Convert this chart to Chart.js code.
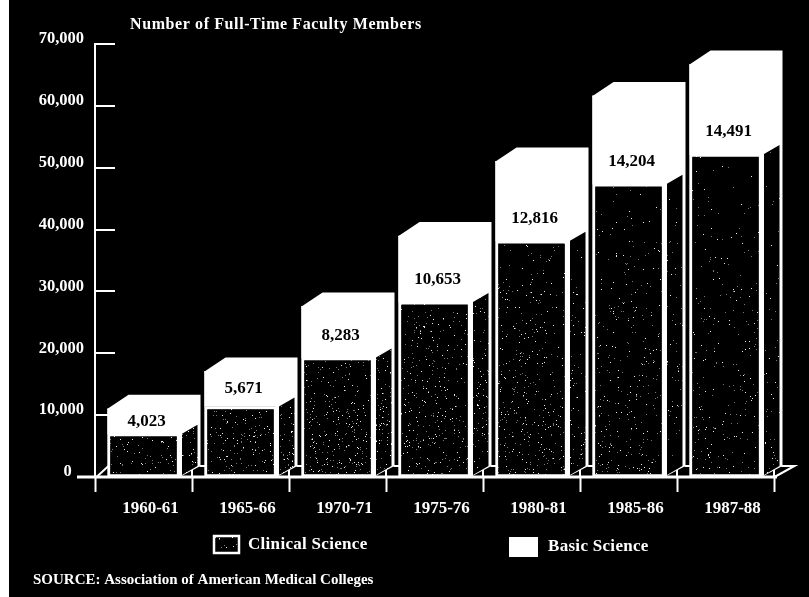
<!DOCTYPE html>
<html>
<head>
<meta charset="utf-8">
<style>
  html, body { margin: 0; padding: 0; background: #fff; }
  #wrap { width: 809px; height: 597px; }
  canvas { display: block; }
</style>
<script src="https://cdn.jsdelivr.net/npm/chart.js@4"></script>
</head>
<body>
<div id="wrap"><canvas id="chart" width="809" height="597"></canvas></div>
<script>
// Full-time medical school faculty by academic year
const categories = ['1960-61', '1965-66', '1970-71', '1975-76', '1980-81', '1985-86', '1987-88'];
const clinicalScience = [7000, 11400, 19300, 28300, 38200, 47400, 52200];
const basicScience = [4023, 5671, 8283, 10653, 12816, 14204, 14491];

const chartTitle = 'Number of Full-Time Faculty Members';
const sourceNote = 'SOURCE: Association of American Medical Colleges';
const clinicalLabel = 'Clinical Science';
const basicLabel = 'Basic Science';

const SERIF = '"Liberation Serif", "Times New Roman", serif';
const DEPTH_X = 21;
const DEPTH_Y = 14;

// Speckled print-screen fill: a fixed hash sets sparse dots, thicker
// towards the lower part of the page and around the middle columns.
function makeStipple(w, h) {
  const c = document.createElement('canvas');
  c.width = w; c.height = h;
  const g = c.getContext('2d');
  g.fillStyle = '#000';
  g.fillRect(0, 0, w, h);
  const img = g.getImageData(0, 0, w, h);
  for (let y = 0; y < h; y++) {
    for (let x = 0; x < w; x++) {
      let n = Math.imul(x * 374761393 + y * 668265263, 1274126177);
      n = (n ^ (n >>> 13)) >>> 0;
      n = Math.imul(n, 1103515245) >>> 0;
      const r = ((n >>> 8) & 0xffff) / 65536;
      const yf = Math.min(1, Math.max(0, (y - 150) / 320));
      const xf = 1 - Math.min(1, Math.abs(x - 340) / 420);
      const d = y > 490 ? 0.02 : 0.004 + 0.04 * yf * (0.3 + 0.7 * xf);
      if (r < d) {
        const i = (y * w + x) * 4;
        const v = r < d * 0.4 ? 235 : 120;
        img.data[i] = v; img.data[i + 1] = v; img.data[i + 2] = v;
      }
    }
  }
  g.putImageData(img, 0, 0);
  return c;
}

const ctx = document.getElementById('chart').getContext('2d');
const stippleFill = ctx.createPattern(makeStipple(809, 597), 'repeat');

// Paper edge on the left, black plate behind everything else
const platePlugin = {
  id: 'plate',
  beforeDraw(chart) {
    const g = chart.ctx;
    g.save();
    g.fillStyle = '#fff';
    g.fillRect(0, 0, chart.width, chart.height);
    g.fillStyle = '#000';
    g.fillRect(9, 0, chart.width - 9, chart.height);
    g.restore();
  }
};

// Short ticks inside the plot and the baseline overhang
const axisPlugin = {
  id: 'axisMarks',
  beforeDatasetsDraw(chart) {
    const g = chart.ctx, y = chart.scales.y, a = chart.chartArea;
    g.save();
    g.strokeStyle = '#fff';
    g.lineWidth = 2;
    y.ticks.forEach(t => {
      if (t.value === 0) return;
      const py = Math.round(y.getPixelForValue(t.value));
      g.beginPath();
      g.moveTo(a.left, py);
      g.lineTo(a.left + 20, py);
      g.stroke();
    });
    const base = y.getPixelForValue(0);
    // category ticks poke up to the floor line
    const step = (a.right - a.left) / categories.length;
    for (let i = 1; i <= categories.length; i++) {
      const px = a.left + step * i;
      g.beginPath();
      g.moveTo(px, base - 11);
      g.lineTo(px, base);
      g.stroke();
    }
    g.lineWidth = 3;
    g.beginPath();
    g.moveTo(a.left - 18, base);
    g.lineTo(a.right + 3, base);
    g.stroke();
    g.restore();
  }
};

// Extruded faces: roof and side of each column, taken from the stacked bar elements
const extrudePlugin = {
  id: 'extrude',
  afterDatasetsDraw(chart) {
    const g = chart.ctx;
    const lower = chart.getDatasetMeta(0).data;
    const upper = chart.getDatasetMeta(1).data;
    const base = chart.scales.y.getPixelForValue(0);
    g.save();
    lower.forEach((bar, i) => {
      const l = bar.x - bar.width / 2;
      const r = bar.x + bar.width / 2;
      const yC = bar.y;
      const yT = upper[i].y;
      // white roof and upper side, overlapping the front face to hide the seam
      g.fillStyle = '#fff';
      g.beginPath();
      g.moveTo(l, yT + 1);
      g.lineTo(l, yT);
      g.lineTo(l + DEPTH_X, yT - DEPTH_Y);
      g.lineTo(r + DEPTH_X, yT - DEPTH_Y);
      g.lineTo(r + DEPTH_X, base - 11);
      g.lineTo(r, base);
      g.lineTo(r - 1, base);
      g.lineTo(r - 1, yT + 1);
      g.closePath();
      g.fill();
      // dark lower side panel
      g.fillStyle = stippleFill;
      g.beginPath();
      g.moveTo(r + 2.5, yC);
      g.lineTo(r + DEPTH_X - 3, yC - 9);
      g.lineTo(r + DEPTH_X - 3, base - 11);
      g.lineTo(r + 2.5, base - 2);
      g.closePath();
      g.fill();
      // floor step between columns
      g.strokeStyle = '#fff';
      g.lineWidth = 2;
      g.beginPath();
      g.moveTo(r + DEPTH_X - 1, base - 11);
      g.lineTo(r + DEPTH_X + 5, base - 11);
      g.stroke();
      if (i === 0) {
        g.beginPath();
        g.moveTo(l - 11, base);
        g.lineTo(l + 1, base - 11);
        g.stroke();
      }
      if (i === lower.length - 1) {
        g.beginPath();
        g.moveTo(r + DEPTH_X - 1, base - 11);
        g.lineTo(r + DEPTH_X + 12, base - 11);
        g.lineTo(r + 13, base);
        g.stroke();
      }
    });
    g.restore();
  }
};

// Value labels, heading, key and source line
const textPlugin = {
  id: 'texts',
  afterDraw(chart) {
    const g = chart.ctx;
    const lower = chart.getDatasetMeta(0).data;
    const upper = chart.getDatasetMeta(1).data;
    g.save();
    g.textBaseline = 'middle';

    g.fillStyle = '#000';
    g.textAlign = 'center';
    g.font = 'bold 17px ' + SERIF;
    basicScience.forEach((v, i) => {
      const yC = lower[i].y, yT = upper[i].y;
      const py = Math.max((yC + yT) / 2, yC - 22);
      g.fillText(v.toLocaleString('en-US'), lower[i].x + 3, py);
    });

    g.fillStyle = '#fff';
    g.textAlign = 'left';
    g.font = 'bold 16px ' + SERIF;
    g.letterSpacing = '0.6px';
    g.fillText(chartTitle, 130, 25);
    g.letterSpacing = '0px';

    g.font = 'bold 17px ' + SERIF;
    g.letterSpacing = '0.3px';
    g.fillText(clinicalLabel, 248, 545);
    g.fillText(basicLabel, 548, 547);
    g.letterSpacing = '0px';

    g.font = 'bold 15px ' + SERIF;
    g.fillText(sourceNote, 33, 580);

    // key swatches
    g.strokeStyle = '#fff';
    g.lineWidth = 2.5;
    g.fillStyle = stippleFill;
    g.fillRect(214, 536, 25, 17);
    g.strokeRect(214, 536, 25, 17);
    g.fillStyle = '#fff';
    g.fillRect(509, 537, 29, 20);
    g.restore();
  }
};

new Chart(ctx, {
  type: 'bar',
  data: {
    labels: categories,
    datasets: [
      {
        label: clinicalLabel,
        data: clinicalScience,
        backgroundColor: stippleFill,
        borderColor: '#fff',
        borderWidth: 3,
        borderSkipped: false,
        barThickness: 72
      },
      {
        label: basicLabel,
        data: basicScience,
        backgroundColor: '#fff',
        borderWidth: 0,
        barThickness: 72
      }
    ]
  },
  plugins: [platePlugin, axisPlugin, extrudePlugin, textPlugin],
  options: {
    responsive: false,
    animation: false,
    layout: { padding: { left: 0, right: 35, top: 44, bottom: 0 } },
    plugins: {
      legend: { display: false },
      title: { display: false },
      tooltip: { enabled: false }
    },
    scales: {
      x: {
        stacked: true,
        afterFit(s) { s.height = 120; },
        grid: {
          display: true,
          drawOnChartArea: false,
          drawTicks: true,
          tickLength: 15,
          tickColor: '#fff',
          tickWidth: 2,
          color: '#fff',
          offset: true
        },
        border: { display: false },
        ticks: {
          color: '#fff',
          font: { family: SERIF, weight: 'bold', size: 17 },
          padding: 6,
          labelOffset: 7,
          maxRotation: 0,
          autoSkip: false
        }
      },
      y: {
        stacked: true,
        min: 0,
        max: 70000,
        afterFit(s) { s.width = 95; },
        grid: { display: false, drawTicks: false },
        border: { display: true, color: '#fff', width: 2 },
        ticks: {
          stepSize: 10000,
          color: '#fff',
          font: { family: SERIF, weight: 'bold', size: 16.5 },
          padding: 11,
          labelOffset: -5,
          callback(v) {
            return v === 0 ? '0\u00a0\u00a0\u00a0' : v.toLocaleString('en-US');
          }
        }
      }
    }
  }
});
</script>
</body>
</html>
